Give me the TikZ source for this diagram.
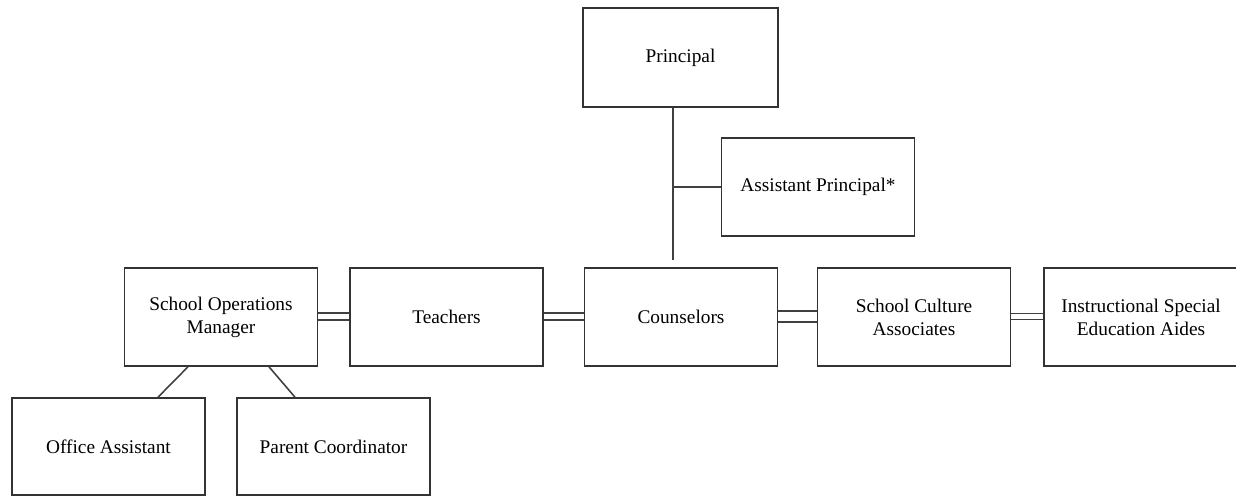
\documentclass[tikz,border=0pt]{standalone}
\usepackage{fontspec}
\setmainfont{Liberation Serif}
\begin{document}
\begin{tikzpicture}[x=0.02cm,y=-0.02cm,
  box/.style={draw=black!80,line width=0.9pt,fill=white,minimum width=3.86cm,minimum height=1.94cm,align=center,font=\fontsize{11pt}{13pt}\selectfont,inner sep=0pt},
  link/.style={draw=black!75,line width=0.9pt}]
\useasboundingbox (0,0) rectangle (1236,496);
\clip (0,0) rectangle (1236,496);
\node[box,minimum width=3.9cm,minimum height=1.98cm] (P) at (680.5,57.5) {Principal};
\node[box,minimum height=1.96cm] (AP) at (818,187) {Assistant Principal*};
\node[box,minimum height=1.96cm] (C) at (681,317) {Counselors};
\node[box,minimum height=1.96cm] (SOM) at (221,317) {School Operations\\Manager};
\node[box,minimum height=1.96cm] (T) at (446.5,317) {Teachers};
\node[box,minimum height=1.96cm] (SCA) at (914,317) {School Culture\\Associates};
\node[box,minimum width=3.88cm,minimum height=1.96cm] (ISEA) at (1141,317) {Instructional Special\\Education Aides};
\node[box] (OA) at (108.5,446.5) {Office Assistant};
\node[box] (PC) at (333.5,446.5) {Parent Coordinator};
\coordinate (pj) at (673,260);
\draw[link] (P.south -| pj) -- (pj);
\draw[link] (pj |- AP.west) -- (AP.west);
\draw[link] ([xshift=-0.66cm]SOM.south) -- ([xshift=0.99cm]OA.north);
\draw[link] ([xshift=0.96cm]SOM.south) -- ([xshift=-0.77cm]PC.north);
\foreach \a/\b/\u/\d in {SOM/T/0.08/-0.06, T/C/0.08/-0.06, C/SCA/0.12/-0.1, SCA/ISEA/0.07/-0.05}{
  \draw[link] ([yshift=\u cm]\a.east) -- ([yshift=\u cm]\b.west);
  \draw[link] ([yshift=\d cm]\a.east) -- ([yshift=\d cm]\b.west);
}
\end{tikzpicture}
\end{document}
